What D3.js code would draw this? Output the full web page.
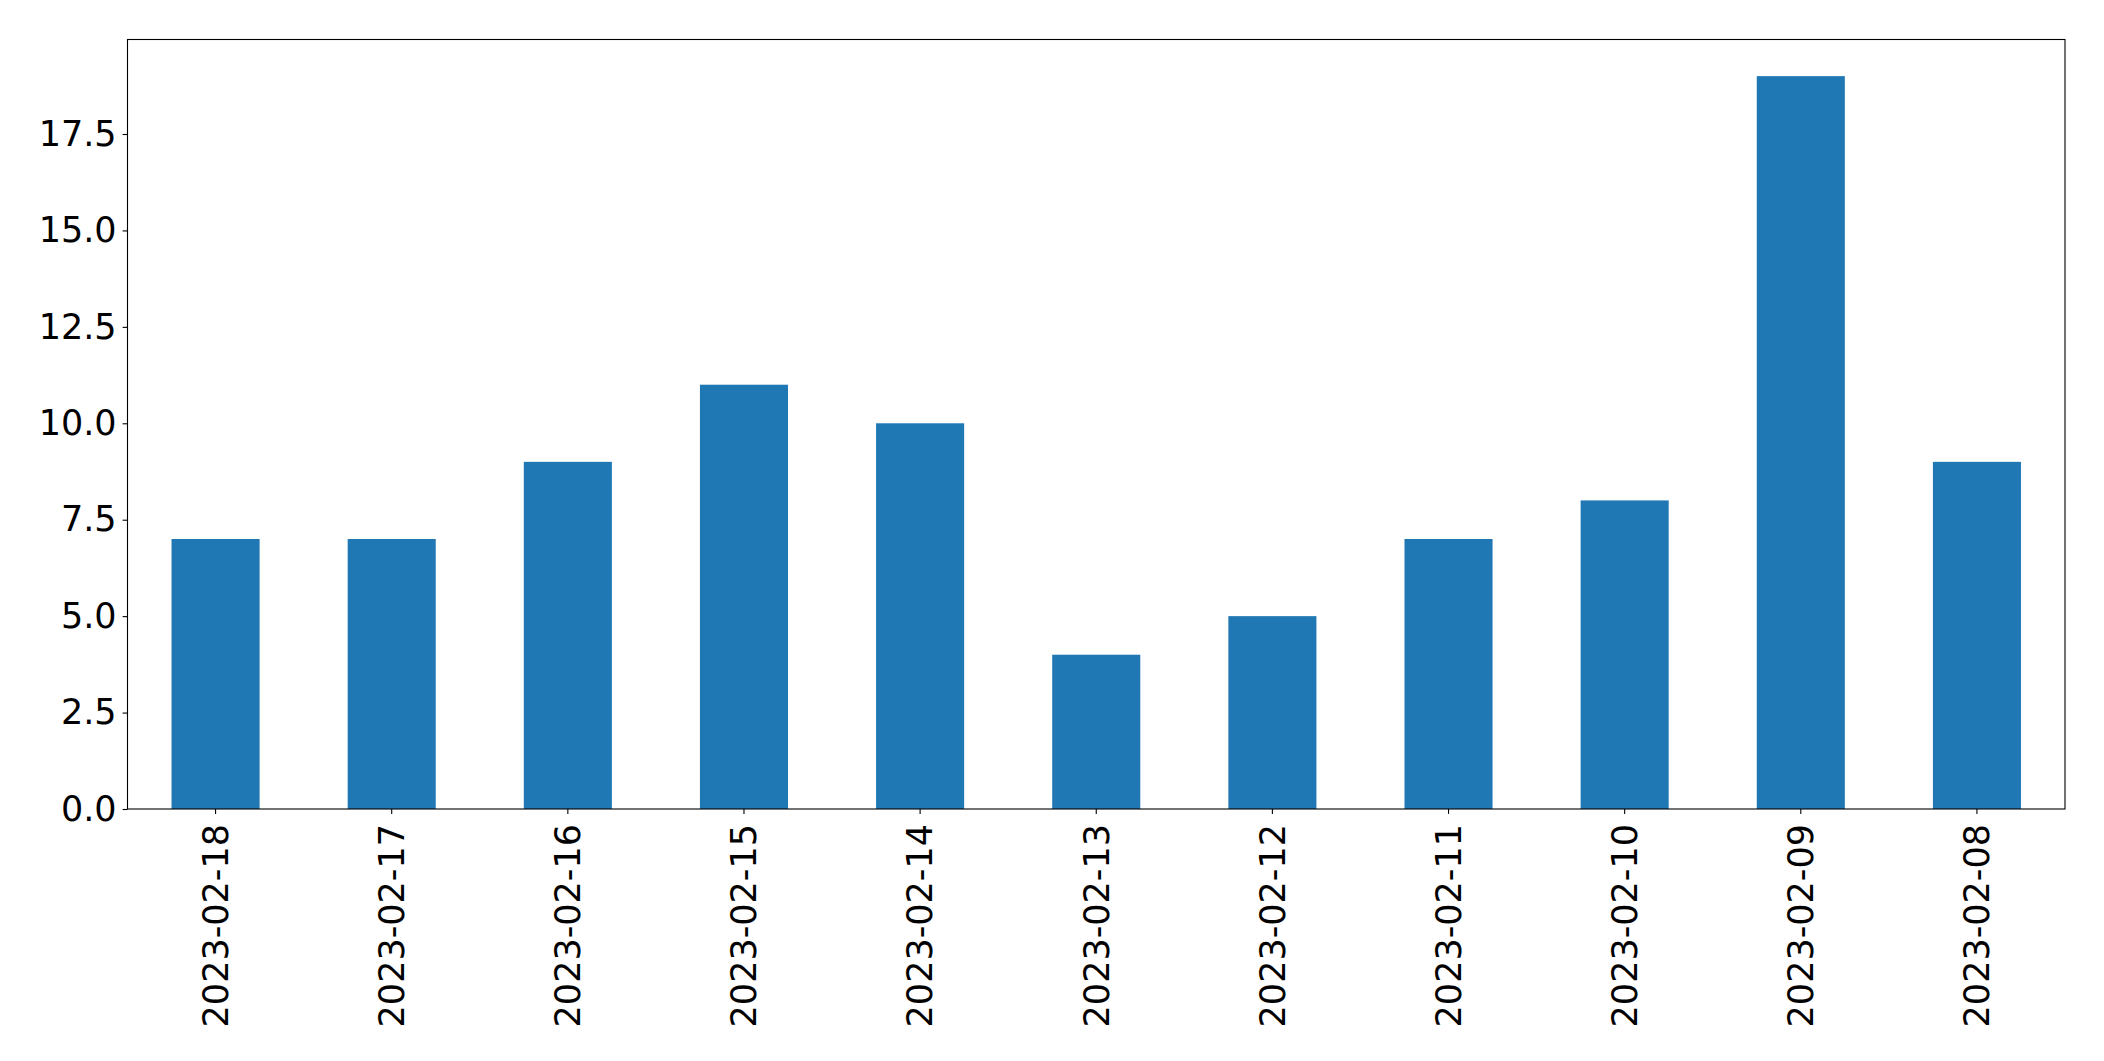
<!DOCTYPE html>
<html>
<head>
<meta charset="utf-8">
<script src="https://cdn.jsdelivr.net/npm/d3@7"></script>
<style>
  html, body { margin: 0; padding: 0; background: #fff; }
  svg { display: block; }
</style>
</head>
<body>
<script>
const categories = ["2023-02-18","2023-02-17","2023-02-16","2023-02-15","2023-02-14","2023-02-13","2023-02-12","2023-02-11","2023-02-10","2023-02-09","2023-02-08"];
const values = [7, 7, 9, 11, 10, 4, 5, 7, 8, 19, 9];
const yTicks = [0, 2.5, 5, 7.5, 10, 12.5, 15, 17.5];

const W = 2104, H = 1061;
const mLeft = 127.5, mRight = 2065, mTop = 39.5, mBottom = 809;
const fontSize = 35;

const svg = d3.select("body").append("svg").attr("width", W).attr("height", H);

const x = d3.scaleBand().domain(categories).range([mLeft, mRight]).paddingInner(0.5).paddingOuter(0.25);
const yMax = d3.max(values) * 1.05;
const y = d3.scaleLinear().domain([0, yMax]).range([mBottom, mTop]);

svg.append("g").selectAll("rect").data(values).join("rect")
  .attr("x", (d, i) => x(categories[i]))
  .attr("y", d => y(d))
  .attr("width", x.bandwidth())
  .attr("height", d => y(0) - y(d))
  .attr("fill", "#1f77b4");

const yAxis = svg.append("g").attr("transform", `translate(${mLeft},0)`)
  .call(d3.axisLeft(y).tickValues(yTicks).tickFormat(d3.format(".1f")).tickSize(4.9).tickPadding(6));
const xAxis = svg.append("g").attr("transform", `translate(0,${mBottom})`)
  .call(d3.axisBottom(x).tickSize(4.9).tickPadding(4.9));

[yAxis, xAxis].forEach(g => {
  g.select(".domain").remove();
  g.selectAll(".tick line").attr("stroke", "#000").attr("stroke-width", 1.1);
  g.selectAll("text").attr("font-family", "DejaVu Sans").attr("font-size", fontSize).attr("fill", "#000");
});

xAxis.selectAll(".tick text")
  .attr("transform", "rotate(-90)")
  .attr("text-anchor", "end")
  .attr("x", -15)
  .attr("y", 0)
  .attr("dy", "0.35em");

svg.append("rect")
  .attr("x", mLeft).attr("y", mTop)
  .attr("width", mRight - mLeft).attr("height", mBottom - mTop)
  .attr("fill", "none").attr("stroke", "#000").attr("stroke-width", 1.1);
</script>
</body>
</html>
